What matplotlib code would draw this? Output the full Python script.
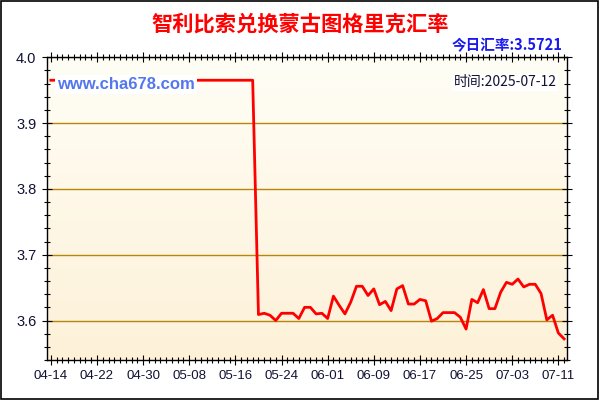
import matplotlib
matplotlib.use("Agg")
import numpy as np
import pandas as pd
import matplotlib.pyplot as plt
import matplotlib.dates as mdates
from matplotlib.colors import LinearSegmentedColormap
from matplotlib.patches import Rectangle

# Daily CLP -> MNT rate, 2025-04-14 .. 2025-07-12
START_DATE = "2025-04-14"
RATES = [
    3.965, 3.965, 3.965, 3.965, 3.965, 3.965, 3.965, 3.965, 3.965, 3.965,
    3.965, 3.965, 3.965, 3.965, 3.965, 3.965, 3.965, 3.965, 3.965, 3.965,
    3.965, 3.965, 3.965, 3.965, 3.965, 3.965, 3.965, 3.965, 3.965, 3.965,
    3.965, 3.965, 3.965, 3.965, 3.965, 3.965,
    3.609, 3.611, 3.608, 3.600, 3.611, 3.611, 3.611, 3.603, 3.620, 3.620,
    3.610, 3.611, 3.603, 3.637, 3.623, 3.610, 3.628, 3.652, 3.652, 3.638,
    3.648, 3.624, 3.629, 3.615, 3.648, 3.653, 3.625, 3.625, 3.632, 3.630,
    3.599, 3.603, 3.612, 3.612, 3.612, 3.605, 3.587, 3.632, 3.627, 3.647,
    3.618, 3.618, 3.643, 3.658, 3.655, 3.663, 3.651, 3.655, 3.655, 3.641,
    3.601, 3.608, 3.581, 3.5721,
]
TICK_LABELS = ["04-14", "04-22", "04-30", "05-08", "05-16", "05-24",
               "06-01", "06-09", "06-17", "06-25", "07-03", "07-11"]
Y_TICKS = [3.6, 3.7, 3.8, 3.9, 4.0]

TITLE = "智利比索兑换蒙古图格里克汇率"
TODAY_TEXT = "今日汇率:3.5721"
TIME_TEXT = "时间:2025-07-12"
SITE_TEXT = "www.cha678.com"

CJK = ["Noto Sans CJK SC", "DejaVu Sans"]
plt.rcParams["font.family"] = ["Liberation Sans", "DejaVu Sans"]

dates = pd.date_range(START_DATE, periods=len(RATES), freq="D")
tick_dates = [pd.Timestamp("2025-" + lbl) for lbl in TICK_LABELS]

fig = plt.figure(figsize=(6, 4), dpi=100)
fig.patch.set_facecolor("white")
ax = fig.add_axes([0.078, 0.10, 0.867, 0.757])

x0 = mdates.date2num(dates[0]) - 0.7
x1 = mdates.date2num(dates[-1]) + 0.5
y0, y1 = 3.54, 4.0

# cream gradient background, lighter at the top
cmap = LinearSegmentedColormap.from_list("bg", ["#fffef6", "#fdf1d8"])
grad = np.linspace(0, 1, 256).reshape(-1, 1)
ax.imshow(grad, extent=[x0, x1, y0, y1], aspect="auto", cmap=cmap, zorder=0)

for y in Y_TICKS:
    ax.axhline(y, color="#b8860b", lw=1, zorder=1)

ax.plot(dates, RATES, color="#ff0000", lw=2, zorder=3)

ax.set_xlim(x0, x1)
ax.set_ylim(y0, y1)

ax.set_xticks(tick_dates)
ax.set_xticklabels(TICK_LABELS, fontsize=9.5, color="#111133")
ax.xaxis.set_minor_locator(mdates.DayLocator())
ax.set_yticks(Y_TICKS)
ax.set_yticklabels([f"{v:.1f}" for v in Y_TICKS], fontsize=10.5, color="#111133")
ax.yaxis.set_minor_locator(plt.MultipleLocator(0.02))

ax.tick_params(axis="both", which="both", direction="inout", top=True, right=True,
               color="black", width=0.8)
ax.tick_params(axis="both", which="major", length=7, pad=4)
ax.tick_params(axis="both", which="minor", length=5)
for s in ax.spines.values():
    s.set_color("black")
    s.set_linewidth(1)

fig.text(0.5, 0.94, TITLE, ha="center", va="center", fontsize=15.3,
         fontweight="bold", color="#ff0000", family=CJK)
fig.text(0.937, 0.888, TODAY_TEXT, ha="right", va="center", fontsize=10.5,
         fontweight="bold", color="#1a1aee", family=CJK)

ax.text(0.02, 0.91, SITE_TEXT, transform=ax.transAxes, ha="left", va="center",
        fontsize=12, fontweight="bold", color="#5577ee", zorder=4,
        bbox=dict(facecolor="white", edgecolor="none", pad=1.5))
ax.text(0.98, 0.917, TIME_TEXT, transform=ax.transAxes, ha="right", va="center",
        fontsize=10, color="#111133", family=CJK, zorder=4,
        bbox=dict(facecolor="white", edgecolor="none", pad=1))

fig.patches.append(Rectangle((0.001, 0.002), 0.996, 0.995, transform=fig.transFigure,
                             fill=False, edgecolor="black", lw=1.2))

fig.savefig("out.png", dpi=100)
